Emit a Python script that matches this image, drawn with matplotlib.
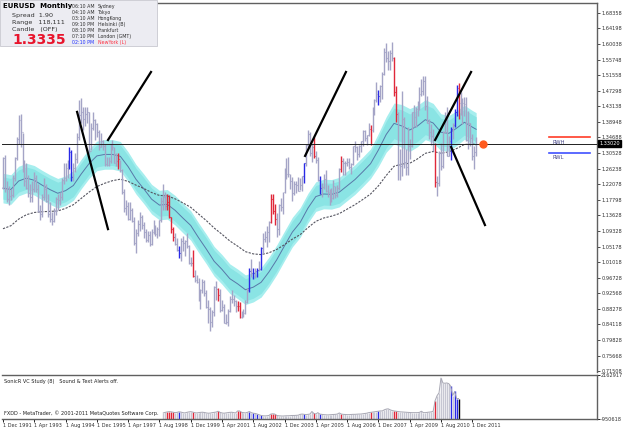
import numpy as np
import matplotlib
matplotlib.use("Agg")
import matplotlib.pyplot as plt
from matplotlib.patches import Rectangle

# monthly bars, first bar = Dec 1991
first_open = 1.210
highs = [1.295,
    1.300, 1.230, 1.215, 1.207, 1.246, 1.295, 1.349, 1.407, 1.411, 1.358, 1.287, 1.278,
    1.246, 1.222, 1.230, 1.254, 1.246, 1.222, 1.164, 1.193, 1.238, 1.222, 1.193, 1.171,
    1.144, 1.157, 1.185, 1.193, 1.200, 1.238, 1.278, 1.278, 1.287, 1.321, 1.313, 1.278,
    1.304, 1.358, 1.449, 1.454, 1.428, 1.428, 1.428, 1.417, 1.387, 1.417, 1.397, 1.387,
    1.368, 1.358, 1.340, 1.330, 1.295, 1.295, 1.330, 1.340, 1.321, 1.304, 1.304, 1.287,
    1.262, 1.207, 1.178, 1.171, 1.171, 1.157, 1.131, 1.099, 1.124, 1.144, 1.137, 1.118,
    1.099, 1.093, 1.093, 1.099, 1.124, 1.111, 1.105, 1.124, 1.185, 1.222, 1.200, 1.193,
    1.190, 1.133, 1.104, 1.088, 1.076, 1.052, 1.076, 1.081, 1.070, 1.089, 1.056, 1.023,
    1.042, 0.988, 0.975, 0.968, 0.937, 0.965, 0.960, 0.935, 0.907, 0.889, 0.880, 0.945,
    0.959, 0.940, 0.936, 0.908, 0.896, 0.869, 0.884, 0.919, 0.933, 0.920, 0.908, 0.904,
    0.903, 0.878, 0.884, 0.906, 0.939, 0.995, 1.019, 0.993, 0.994, 0.995, 1.014, 1.050,
    1.088, 1.093, 1.108, 1.120, 1.193, 1.193, 1.168, 1.142, 1.168, 1.183, 1.200, 1.264,
    1.290, 1.293, 1.247, 1.239, 1.229, 1.230, 1.240, 1.237, 1.243, 1.277, 1.330, 1.367,
    1.362, 1.330, 1.348, 1.310, 1.295, 1.244, 1.225, 1.248, 1.259, 1.219, 1.208, 1.209,
    1.232, 1.215, 1.218, 1.264, 1.297, 1.292, 1.283, 1.292, 1.291, 1.278, 1.325, 1.337,
    1.323, 1.326, 1.338, 1.368, 1.366, 1.354, 1.385, 1.381, 1.428, 1.452, 1.497, 1.476,
    1.488, 1.525, 1.590, 1.602, 1.582, 1.584, 1.604, 1.565, 1.487, 1.415, 1.317, 1.472,
    1.401, 1.315, 1.374, 1.344, 1.416, 1.434, 1.429, 1.445, 1.484, 1.506, 1.514, 1.514,
    1.458, 1.398, 1.382, 1.369, 1.333, 1.242, 1.311, 1.333, 1.365, 1.416, 1.428, 1.350,
    1.374, 1.386, 1.425, 1.488, 1.494, 1.470, 1.454, 1.455, 1.455, 1.419, 1.386, 1.355,
    1.324, 1.348]
lows = [1.207,
    1.200, 1.171, 1.164, 1.178, 1.185, 1.230, 1.287, 1.330, 1.321, 1.254, 1.215, 1.207,
    1.185, 1.171, 1.171, 1.200, 1.200, 1.144, 1.124, 1.131, 1.178, 1.171, 1.131, 1.118,
    1.111, 1.118, 1.137, 1.150, 1.164, 1.178, 1.222, 1.230, 1.238, 1.262, 1.230, 1.230,
    1.254, 1.278, 1.340, 1.387, 1.368, 1.377, 1.387, 1.304, 1.313, 1.368, 1.340, 1.349,
    1.313, 1.321, 1.313, 1.270, 1.270, 1.270, 1.278, 1.313, 1.278, 1.270, 1.262, 1.254,
    1.193, 1.144, 1.137, 1.124, 1.124, 1.118, 1.057, 1.035, 1.081, 1.093, 1.099, 1.075,
    1.063, 1.063, 1.052, 1.057, 1.087, 1.081, 1.075, 1.081, 1.118, 1.150, 1.150, 1.150,
    1.129, 1.089, 1.068, 1.057, 1.041, 1.021, 1.012, 1.041, 1.027, 1.048, 1.004, 0.998,
    0.970, 0.956, 0.953, 0.904, 0.884, 0.925, 0.919, 0.885, 0.844, 0.823, 0.834, 0.865,
    0.906, 0.905, 0.876, 0.878, 0.844, 0.843, 0.838, 0.875, 0.899, 0.890, 0.876, 0.878,
    0.858, 0.858, 0.862, 0.870, 0.900, 0.930, 0.970, 0.964, 0.968, 0.969, 0.985, 0.988,
    1.035, 1.064, 1.050, 1.065, 1.115, 1.140, 1.110, 1.077, 1.083, 1.148, 1.141, 1.197,
    1.235, 1.239, 1.208, 1.176, 1.190, 1.196, 1.202, 1.206, 1.202, 1.225, 1.271, 1.321,
    1.296, 1.281, 1.290, 1.279, 1.230, 1.195, 1.187, 1.208, 1.199, 1.187, 1.164, 1.171,
    1.180, 1.183, 1.187, 1.206, 1.253, 1.245, 1.246, 1.269, 1.262, 1.248, 1.272, 1.307,
    1.287, 1.293, 1.307, 1.325, 1.338, 1.327, 1.351, 1.326, 1.361, 1.407, 1.443, 1.436,
    1.444, 1.452, 1.515, 1.552, 1.529, 1.529, 1.555, 1.458, 1.388, 1.233, 1.233, 1.243,
    1.265, 1.246, 1.245, 1.289, 1.320, 1.374, 1.375, 1.404, 1.422, 1.458, 1.463, 1.422,
    1.386, 1.344, 1.327, 1.311, 1.214, 1.188, 1.215, 1.259, 1.265, 1.359, 1.297, 1.296,
    1.287, 1.344, 1.374, 1.406, 1.397, 1.407, 1.384, 1.405, 1.336, 1.315, 1.325, 1.286,
    1.262, 1.298]
closes = [1.291,
    1.207, 1.180, 1.188, 1.190, 1.236, 1.291, 1.343, 1.395, 1.362, 1.268, 1.228, 1.210,
    1.198, 1.185, 1.207, 1.238, 1.207, 1.148, 1.139, 1.185, 1.207, 1.175, 1.139, 1.127,
    1.120, 1.148, 1.181, 1.179, 1.186, 1.231, 1.236, 1.265, 1.268, 1.307, 1.239, 1.263,
    1.288, 1.349, 1.408, 1.415, 1.396, 1.411, 1.415, 1.311, 1.373, 1.393, 1.382, 1.363,
    1.322, 1.336, 1.324, 1.276, 1.273, 1.284, 1.330, 1.321, 1.279, 1.284, 1.288, 1.259,
    1.199, 1.156, 1.161, 1.126, 1.151, 1.122, 1.062, 1.089, 1.112, 1.131, 1.110, 1.090,
    1.069, 1.084, 1.059, 1.090, 1.106, 1.085, 1.099, 1.123, 1.174, 1.185, 1.161, 1.171,
    1.131, 1.099, 1.077, 1.058, 1.043, 1.034, 1.066, 1.062, 1.068, 1.054, 1.008, 1.007,
    0.972, 0.962, 0.957, 0.912, 0.934, 0.955, 0.927, 0.889, 0.883, 0.849, 0.874, 0.942,
    0.937, 0.921, 0.880, 0.887, 0.846, 0.849, 0.877, 0.910, 0.911, 0.905, 0.890, 0.890,
    0.860, 0.867, 0.872, 0.901, 0.934, 0.987, 0.979, 0.981, 0.987, 0.989, 0.992, 1.049,
    1.073, 1.078, 1.091, 1.118, 1.180, 1.148, 1.125, 1.100, 1.165, 1.159, 1.199, 1.259,
    1.247, 1.247, 1.229, 1.198, 1.220, 1.217, 1.203, 1.218, 1.243, 1.277, 1.327, 1.356,
    1.304, 1.322, 1.297, 1.287, 1.232, 1.210, 1.213, 1.234, 1.202, 1.199, 1.179, 1.184,
    1.215, 1.192, 1.211, 1.262, 1.284, 1.279, 1.278, 1.281, 1.267, 1.276, 1.325, 1.320,
    1.302, 1.323, 1.336, 1.365, 1.345, 1.353, 1.369, 1.366, 1.426, 1.448, 1.465, 1.459,
    1.486, 1.518, 1.579, 1.562, 1.554, 1.576, 1.561, 1.469, 1.411, 1.272, 1.270, 1.397,
    1.280, 1.267, 1.325, 1.324, 1.415, 1.403, 1.425, 1.434, 1.464, 1.472, 1.500, 1.433,
    1.386, 1.363, 1.351, 1.329, 1.227, 1.223, 1.305, 1.269, 1.363, 1.394, 1.298, 1.338,
    1.369, 1.381, 1.416, 1.480, 1.439, 1.450, 1.439, 1.438, 1.339, 1.387, 1.346, 1.296,
    1.308, 1.3302]

red_bars = [59, 84, 85, 86, 87, 97, 110, 120, 121, 137, 138, 139, 159, 173, 188, 200, 201, 221, 233]
blue_bars = [34, 35, 90, 126, 128, 130, 132, 154, 162, 192, 229, 231, 232]

# dragon band (34) and trend line (89), read every 4 months from Dec 1991 + last bar
line_x = list(range(0, 241, 4)) + [242]
dragon_mid = [1.210, 1.206, 1.229, 1.237, 1.231, 1.218, 1.206, 1.196, 1.203, 1.217, 1.248,
              1.276, 1.297, 1.301, 1.301, 1.296, 1.268, 1.234, 1.208, 1.180, 1.164, 1.166,
              1.150, 1.129, 1.109, 1.076, 1.045, 1.012, 0.990, 0.965, 0.951, 0.935, 0.942,
              0.955, 0.983, 1.016, 1.054, 1.091, 1.117, 1.156, 1.187, 1.194, 1.193, 1.199,
              1.216, 1.233, 1.254, 1.276, 1.313, 1.355, 1.385, 1.378, 1.367, 1.378, 1.395,
              1.386, 1.361, 1.358, 1.372, 1.388, 1.375, 1.369]
dragon_half = [0.040] * 48 + [0.045, 0.048, 0.055, 0.058, 0.058, 0.056, 0.054, 0.053,
                              0.050, 0.048, 0.047, 0.046, 0.045, 0.045]
trend = [1.100, 1.108, 1.126, 1.138, 1.144, 1.146, 1.147, 1.148, 1.155, 1.165, 1.182,
         1.199, 1.214, 1.223, 1.230, 1.234, 1.228, 1.218, 1.209, 1.198, 1.190, 1.189,
         1.181, 1.170, 1.158, 1.140, 1.122, 1.102, 1.085, 1.067, 1.053, 1.038, 1.032,
         1.030, 1.035, 1.044, 1.057, 1.072, 1.084, 1.103, 1.120, 1.129, 1.134, 1.141,
         1.153, 1.165, 1.179, 1.194, 1.216, 1.244, 1.269, 1.275, 1.277, 1.289, 1.304,
         1.309, 1.304, 1.308, 1.317, 1.328, 1.329, 1.328]

# SonicR VC study histogram, from Oct 1998
hist_start = 82
hist = [-520000, -480000, -450000, -430000, -440000, -470000, -500000, -480000, -440000,
        -460000, -500000, -520000, -480000, -450000, -430000, -460000, -500000, -520000,
        -500000, -480000, -470000, -490000, -520000, -540000, -530000, -500000, -480000,
        -460000, -400000, -480000, -520000, -540000, -520000, -500000, -480000, -470000,
        -500000, -520000, -380000, -380000, -480000, -500000, -520000, -480000, -420000,
        -500000, -540000, -560000, -600000, -650000, -700000, -720000, -730000, -720000,
        -700000, -600000, -580000, -600000, -700000, -720000, -730000, -740000, -730000,
        -720000, -720000, -710000, -700000, -700000, -690000, -680000, -620000, -600000,
        -620000, -640000, -620000, -600000, -420000, -560000, -600000, -500000, -600000,
        -620000, -640000, -650000, -660000, -650000, -640000, -630000, -620000, -600000,
        -520000, -600000, -620000, -630000, -640000, -640000, -630000, -620000, -620000,
        -610000, -600000, -600000, -580000, -560000, -540000, -500000, -480000, -460000,
        -440000, -420000, -400000, -380000, -380000, -300000, -250000, -230000, -300000,
        -350000, -380000, -400000, -420000, -440000, -450000, -460000, -470000, -480000,
        -490000, -500000, -500000, -500000, -500000, -480000, -400000, -500000, -500000,
        -480000, -460000, -450000, -400000, 350000, 700000, 900000, 1945000, 1600000,
        1580000, 1600000, 1550000, 1360000, 700000, 1000000, 500000, 500000]

trend_lines = [((37.9, 1.416), (53.7, 1.099)),
               ((53.7, 1.340), (75.7, 1.524)),
               ((154.5, 1.297), (175.4, 1.524)),
               ((221.0, 1.340), (239.4, 1.524)),
               ((229.2, 1.321), (246.5, 1.110))]

bid = 1.3302
rwh = 1.3469
rwl = 1.3053

price_ticks = [1.68358, 1.64198, 1.60038, 1.55748, 1.51558, 1.47298, 1.43138, 1.38948,
               1.34688, 1.30528, 1.26238, 1.22078, 1.17798, 1.13628, 1.09328, 1.05178,
               1.01018, 0.96728, 0.92568, 0.88278, 0.84118, 0.79828, 0.75668, 0.71508]
date_labels = ["1 Dec 1991", "1 Apr 1993", "1 Aug 1994", "1 Dec 1995", "1 Apr 1997",
               "1 Aug 1998", "1 Dec 1999", "1 Apr 2001", "1 Aug 2002", "1 Dec 2003",
               "1 Apr 2005", "1 Aug 2006", "1 Dec 2007", "1 Apr 2009", "1 Aug 2010",
               "1 Dec 2011"]

W, H = 625, 429
fig = plt.figure(figsize=(W / 100, H / 100), dpi=100)
fig.patch.set_facecolor("white")
ax = fig.add_axes([2 / W, 1 - 372 / H, 595 / W, 369 / H])
ax2 = fig.add_axes([2 / W, 1 - 419 / H, 595 / W, 44 / H])
xmin, xmax = -0.5, 303.8
ymin, ymax = 0.7125, 1.7106

n = len(closes)
x = np.arange(n)
opens = [first_open] + closes[:-1]
bar_col = ["#a4a4c6"] * n
for i in red_bars:
    bar_col[i] = "#e0283a"
for i in blue_bars:
    bar_col[i] = "#2a2ae6"

# dragon band and trend line
mid = np.array(dragon_mid)
half = np.array(dragon_half)
ax.fill_between(line_x, mid - half, mid + half, color="#a6eeee", lw=0, zorder=1)
ax.fill_between(line_x, mid - half * 0.75, mid + half * 0.75, color="#8ae4e4", lw=0, zorder=1)
ax.plot(line_x, mid, color="#5878a8", lw=0.7, zorder=2)
ax.plot(line_x, trend, color="#555560", lw=0.8, ls=(0, (2, 1.2)), zorder=2)

ax.vlines(x, lows, highs, colors=bar_col, lw=1.0, zorder=3)
ax.hlines(opens, x - 0.45, x, colors=bar_col, lw=0.8, zorder=3)
ax.hlines(closes, x, x + 0.45, colors=bar_col, lw=0.8, zorder=3)

for (x0, y0), (x1, y1) in trend_lines:
    ax.plot([x0, x1], [y0, y1], color="black", lw=1.6, zorder=5)

ax.axhline(bid, color="#202020", lw=0.7, zorder=4)
ax.plot([n + 2.5], [bid], "o", color="#ff5a1e", ms=5, zorder=6)
ax.plot([279, 300], [rwh, rwh], color="#ff3c28", lw=1.2, zorder=4)
ax.plot([279, 300], [rwl, rwl], color="#4050ff", lw=1.2, zorder=4)
ax.text(281, rwh - 0.006, "RWH", fontsize=3.8, color="#4a4a8a", va="top", ha="left")
ax.text(281, rwl - 0.006, "RWL", fontsize=3.8, color="#4a4a8a", va="top", ha="left")

ax.set_xlim(xmin, xmax)
ax.set_ylim(ymin, ymax)
ax.yaxis.tick_right()
ax.set_yticks(price_ticks)
ax.set_yticklabels([f"{v:.5f}" for v in price_ticks], fontsize=3.6, color="#303030")
ax.tick_params(axis="y", length=2, width=0.6, pad=1, colors="#303030")
ax.set_xticks([])
for s in ["left", "bottom"]:
    ax.spines[s].set_visible(False)
for s in ["top", "right"]:
    ax.spines[s].set_color("#606060")
    ax.spines[s].set_linewidth(1.0)
ax.text(1.004, (bid - ymin) / (ymax - ymin), f"{bid:.5f}", transform=ax.transAxes,
        fontsize=3.6, color="white", va="center", ha="left",
        bbox=dict(boxstyle="square,pad=0.2", fc="black", ec="black"))

# indicator panel
hx = np.arange(hist_start, hist_start + len(hist))
hmin, hmax = -950618, 2162917
hcol = ["#c6c6d2"] * len(hist)
for k, i in enumerate(hx):
    if i in red_bars:
        hcol[k] = "#e0283a"
    elif i in blue_bars:
        hcol[k] = "#2a2ae6"
hcol[-1] = "black"
ax2.vlines(hx, hmin, hist, colors=hcol, lw=1.0)
ax2.plot(hx, hist, color="#a8a8b4", lw=0.7)
ax2.set_xlim(xmin, xmax)
ax2.set_ylim(hmin, hmax)
ax2.yaxis.tick_right()
ax2.set_yticks([hmax, hmin])
ax2.set_yticklabels([str(hmax), str(hmin)], fontsize=3.6, color="#303030")
ax2.tick_params(axis="y", length=2, width=0.6, pad=1)
ax2.set_xticks(np.arange(0, n, 16))
ax2.set_xticklabels(date_labels, fontsize=3.6, color="#303030", ha="left")
ax2.tick_params(axis="x", length=2, width=0.6, pad=1)
ax2.spines["left"].set_visible(False)
for s in ["top", "right", "bottom"]:
    ax2.spines[s].set_color("#606060")
    ax2.spines[s].set_linewidth(1.0)
ax2.text(0.003, 0.9, "SonicR VC Study (8)   Sound & Text Alerts off.", transform=ax2.transAxes,
         fontsize=3.6, va="top", ha="left", color="#202020")
ax2.text(0.003, 0.06, "FXDD - MetaTrader, \u00a9 2001-2011 MetaQuotes Software Corp.",
         transform=ax2.transAxes, fontsize=3.6, va="bottom", ha="left", color="#202020")

# info box top-left
fig.patches.append(Rectangle((0, 1 - 46 / H), 157 / W, 46 / H, transform=fig.transFigure,
                             fc="#ececf2", ec="#c8c8d0", lw=0.6, zorder=10))
fig.text(3 / W, 1 - 3 / H, "EURUSD  Monthly", fontsize=5.0, weight="bold", va="top", zorder=11)
fig.text(12 / W, 1 - 13 / H, "Spread  1.90", fontsize=4.6, va="top", color="#303030", zorder=11)
fig.text(12 / W, 1 - 20 / H, "Range   118,111", fontsize=4.6, va="top", color="#303030", zorder=11)
fig.text(12 / W, 1 - 27 / H, "Candle   (OFF)", fontsize=4.6, va="top", color="#303030", zorder=11)
fig.text(12 / W, 1 - 33 / H, "1.3335", fontsize=10, weight="bold", va="top", color="#e8142c", zorder=11)
times = ["06:10 AM", "04:10 AM", "03:10 AM", "09:10 PM", "08:10 PM", "07:10 PM", "02:10 PM"]
cities = ["Sydney", "Tokyo", "HongKong", "Helsinki (B)", "Frankfurt", "London (GMT)", "NewYork (L)"]
for k, (t, c) in enumerate(zip(times, cities)):
    last = k == len(times) - 1
    fig.text(72 / W, 1 - (4 + 6 * k) / H, t, fontsize=3.4, va="top",
             color="#2030ff" if last else "#303030", zorder=11)
    fig.text(98 / W, 1 - (4 + 6 * k) / H, c, fontsize=3.4, va="top",
             color="#ff3040" if last else "#303030", zorder=11)

fig.savefig("out.png", dpi=100)
